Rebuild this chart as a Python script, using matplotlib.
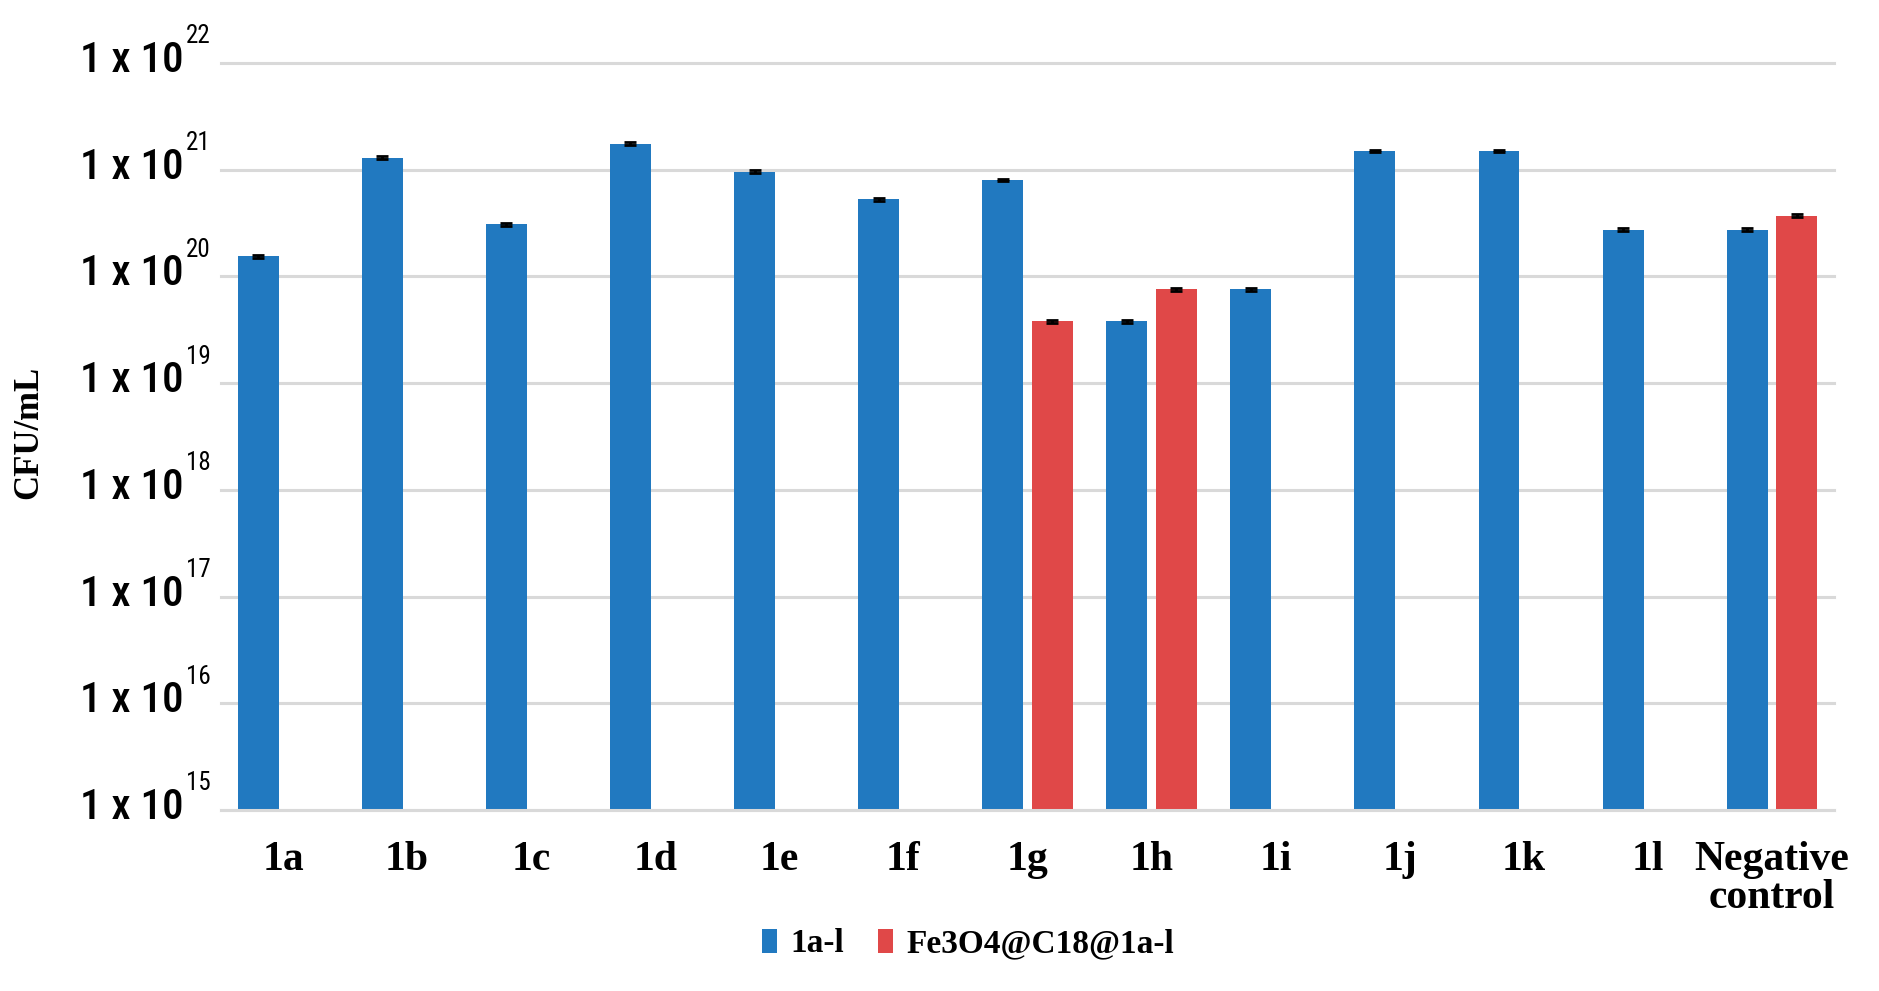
import numpy as np
import matplotlib
matplotlib.use("Agg")
import matplotlib.pyplot as plt
from matplotlib.transforms import ScaledTranslation, blended_transform_factory
from matplotlib import font_manager

# ---- data ----
categories = ["1a", "1b", "1c", "1d", "1e", "1f", "1g", "1h", "1i", "1j", "1k", "1l",
              "Negative\ncontrol"]
series_names = ["1a-l", "Fe3O4@C18@1a-l"]
blue_vals = [1.55e20, 1.3e21, 3.1e20, 1.75e21, 9.6e20, 5.3e20, 8.0e20,
             3.8e19, 7.6e19, 1.5e21, 1.5e21, 2.75e20, 2.75e20]
red_vals = [np.nan, np.nan, np.nan, np.nan, np.nan, np.nan, 3.8e19,
            7.6e19, np.nan, np.nan, np.nan, np.nan, 3.7e20]
blue_err = [5e18, 4e19, 1e19, 5e19, 3e19, 1.6e19, 2.4e19,
            1.2e18, 2.3e18, 4.5e19, 4.5e19, 8e18, 8e18]
red_err = [np.nan] * 6 + [1.2e18, 2.3e18] + [np.nan] * 4 + [1.1e19]
exponents = [15, 16, 17, 18, 19, 20, 21, 22]

blue = "#2179C0"
red = "#E04848"
grid_c = "#D9D9D9"

# pick a condensed sans if available
names = {f.name for f in font_manager.fontManager.ttflist}
cond = [n for n in ["Liberation Sans Narrow", "Roboto Condensed", "DejaVu Sans Condensed",
                    "Open Sans Condensed", "Noto Sans Condensed"] if n in names]
tick_font = cond[:1] + ["Liberation Sans", "DejaVu Sans"]
if cond:
    big, small = 31, 18
else:
    big, small = 28, 16

W, H = 1879, 991
fig = plt.figure(figsize=(W / 100, H / 100), dpi=100)
ax = fig.add_axes([221 / W, 1 - 810 / H, (1834 - 221) / W, (810 - 63) / H])

x = np.arange(len(categories))
bw = 0.33
off = 0.2
ax.set_yscale("log")
ax.bar(x - off, blue_vals, bw, color=blue, label=series_names[0], zorder=2)
ax.bar(x + off, red_vals, bw, color=red, label=series_names[1], zorder=2)
ax.errorbar(x - off, blue_vals, yerr=blue_err, fmt="none", ecolor="black",
            elinewidth=2, capsize=4, capthick=2, zorder=3)
ax.errorbar(x + off, red_vals, yerr=red_err, fmt="none", ecolor="black",
            elinewidth=2, capsize=4, capthick=2, zorder=3)

ax.set_ylim(10.0 ** exponents[0], 10.0 ** exponents[-1])
ax.set_xlim(-0.5, len(categories) - 0.5)

# grid
ax.set_yticks([10.0 ** e for e in exponents])
ax.yaxis.set_minor_locator(matplotlib.ticker.NullLocator())
ax.grid(axis="y", color=grid_c, linewidth=2.2, zorder=0)
ax.set_axisbelow(True)
for gl in ax.get_ygridlines():
    gl.set_clip_on(False)
for s in ["top", "right", "left"]:
    ax.spines[s].set_visible(False)
ax.spines["bottom"].set_color(grid_c)
ax.spines["bottom"].set_linewidth(2.2)
ax.tick_params(axis="both", length=0)

# y tick labels: "1 x 10" + superscript exponent
ax.set_yticklabels(["1 x 10"] * len(exponents), fontsize=big, family=tick_font,
                   fontstretch="condensed", fontweight="medium")
ax.tick_params(axis="y", pad=27)
shift = ScaledTranslation(0, -0.09, fig.dpi_scale_trans)
for lbl in ax.get_yticklabels():
    lbl.set_va("baseline")
    lbl.set_transform(lbl.get_transform() + shift)
btrans = blended_transform_factory(ax.transAxes, ax.transData)
for e in exponents:
    ax.annotate(str(e), xy=(0, 10.0 ** e), xycoords=btrans,
                xytext=(-25.5, 10.5), textcoords="offset points",
                ha="left", va="bottom", fontsize=small, family=tick_font,
                fontstretch="condensed")

# x tick labels
ax.set_xticks(x)
ax.set_xticklabels(categories, fontsize=30, fontweight="bold",
                   family="Liberation Serif", linespacing=1.0)
ax.tick_params(axis="x", pad=22)

# y label
ax.set_ylabel("CFU/mL", fontsize=25, fontweight="bold", family="Liberation Serif")
ax.yaxis.set_label_coords(-0.109, 0.505)

# legend
leg = fig.legend(loc="center", bbox_to_anchor=(968 / W, 1 - 944 / H), ncol=2,
                 frameon=False, prop={"family": "Liberation Serif", "weight": "bold", "size": 24},
                 handlelength=0.45, handleheight=0.7, handletextpad=0.4,
                 columnspacing=1.0)

fig.savefig("out.png", dpi=100, facecolor="white")
